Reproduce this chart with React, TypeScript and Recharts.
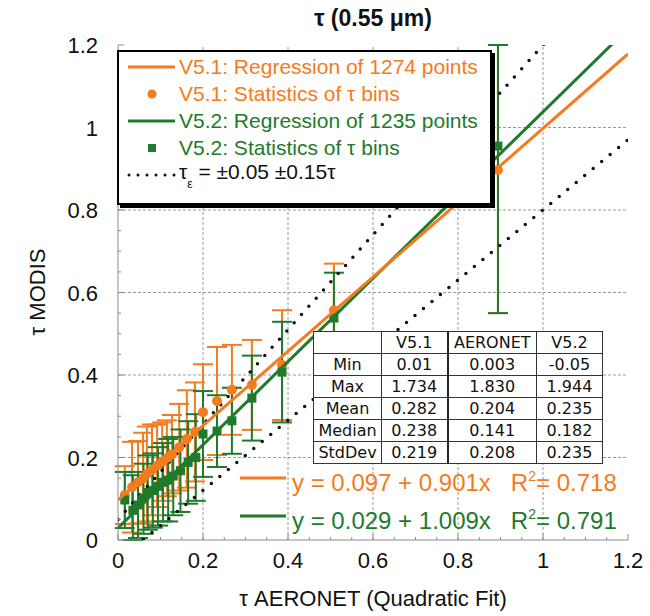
import React from "react";
import { ComposedChart, Scatter, XAxis, YAxis, ErrorBar, ReferenceLine } from "recharts";

const ORANGE = "#f47b20";
const GREEN = "#1f7a2c";
const AXIS = "#8a8a8a";
const FONT = '"Liberation Sans", Arial, Helvetica, sans-serif';

// axis ticks (minor every 0.05, labelled every 0.2)
const axisTicks = [0, 0.05, 0.1, 0.15, 0.2, 0.25, 0.3, 0.35, 0.4, 0.45, 0.5, 0.55, 0.6, 0.65, 0.7, 0.75, 0.8, 0.85, 0.9, 0.95, 1, 1.05, 1.1, 1.15, 1.2];
const gridTicks = [0.2, 0.4, 0.6, 0.8, 1];

// V5.1 statistics of tau bins (mean +/- std)
const v51X = [0.016, 0.033, 0.047, 0.059, 0.068, 0.08, 0.092, 0.104, 0.115, 0.127, 0.144, 0.162, 0.181, 0.2, 0.233, 0.268, 0.315, 0.386, 0.508, 0.894];
const v51Y = [0.109, 0.128, 0.14, 0.15, 0.16, 0.17, 0.18, 0.19, 0.198, 0.208, 0.225, 0.245, 0.262, 0.31, 0.337, 0.364, 0.376, 0.424, 0.557, 0.897];
const v51Std = [0.07, 0.11, 0.1, 0.11, 0.115, 0.11, 0.1, 0.095, 0.092, 0.095, 0.105, 0.118, 0.12, 0.116, 0.131, 0.109, 0.109, 0.133, 0.113, 0.347];

// V5.2 statistics of tau bins
const v52X = [0.016, 0.035, 0.047, 0.06, 0.07, 0.082, 0.094, 0.106, 0.118, 0.13, 0.147, 0.165, 0.183, 0.2, 0.233, 0.268, 0.315, 0.386, 0.508, 0.894];
const v52Y = [0.097, 0.072, 0.085, 0.1, 0.115, 0.12, 0.13, 0.14, 0.145, 0.155, 0.168, 0.188, 0.2, 0.257, 0.264, 0.289, 0.344, 0.407, 0.538, 0.955];
const v52Std = [0.068, 0.085, 0.08, 0.085, 0.09, 0.09, 0.095, 0.095, 0.1, 0.095, 0.1, 0.1, 0.105, 0.104, 0.087, 0.08, 0.103, 0.122, 0.11, 0.405];

// regressions and expected error envelope
const v51Fit = { intercept: 0.097, slope: 0.901, r2: "0.718", n: 1274 };
const v52Fit = { intercept: 0.029, slope: 1.009, r2: "0.791", n: 1235 };
const eeOffset = 0.05;
const eeSlope = 0.15;

// summary table
const statsCols = ["V5.1", "AERONET", "V5.2"];
const statsRows = ["Min", "Max", "Mean", "Median", "StdDev"];
const statsV51 = ["0.01", "1.734", "0.282", "0.238", "0.219"];
const statsAeronet = ["0.003", "1.830", "0.204", "0.141", "0.208"];
const statsV52 = ["-0.05", "1.944", "0.235", "0.182", "0.235"];

const X0 = 0;
const X1 = 1.2;

// error bars are cut at the plot frame (ErrorBar is not clipped by recharts)
const bins = (xs: number[], ys: number[], sd: number[]) =>
  xs.map((x, i) => ({
    x,
    y: ys[i],
    err: [Math.min(sd[i], ys[i] - X0), Math.min(sd[i], X1 - ys[i])],
  }));
const fitLine = (f: { intercept: number; slope: number }) => [
  { x: X0, y: f.intercept + f.slope * X0 },
  { x: X1, y: f.intercept + f.slope * X1 },
];
const eeLine = (sign: number) => [
  { x: X0, y: X0 + sign * (eeOffset + eeSlope * X0) },
  { x: X1, y: X1 + sign * (eeOffset + eeSlope * X1) },
];

const v51Data = bins(v51X, v51Y, v51Std);
const v52Data = bins(v52X, v52Y, v52Std);

const isMajor = (v: number) => Math.abs(v * 5 - Math.round(v * 5)) < 1e-6;
const fmt = (v: number) => (v === 0 ? "0" : String(+v.toFixed(1)));

function BottomTick({ x, y, payload }: any) {
  const major = isMajor(payload.value);
  return (
    <g>
      <line x1={x} x2={x} y1={y} y2={y - (major ? 6 : 3)} stroke={AXIS} />
      {major && (
        <text x={x} y={y + 28} textAnchor="middle" fontSize={22} fontFamily={FONT} fill="#111">
          {fmt(payload.value)}
        </text>
      )}
    </g>
  );
}

function TopTick({ x, y, payload }: any) {
  const major = isMajor(payload.value);
  return <line x1={x} x2={x} y1={y} y2={y + (major ? 6 : 3)} stroke={AXIS} />;
}

function LeftTick({ x, y, payload }: any) {
  const major = isMajor(payload.value);
  return (
    <g>
      <line x1={x} x2={x + (major ? 6 : 3)} y1={y} y2={y} stroke={AXIS} />
      {major && (
        <text x={x - 20} y={y + 8} textAnchor="end" fontSize={22} fontFamily={FONT} fill="#111">
          {fmt(payload.value)}
        </text>
      )}
    </g>
  );
}

function RightTick({ x, y, payload }: any) {
  const major = isMajor(payload.value);
  return <line x1={x} x2={x - (major ? 6 : 3)} y1={y} y2={y} stroke={AXIS} />;
}

const noShape = () => <g />;
const dot = (p: any) => <circle cx={p.cx} cy={p.cy} r={5} fill={ORANGE} />;
const square = (p: any) => <rect x={p.cx - 4.5} y={p.cy - 4.5} width={9} height={9} fill={GREEN} />;

function LegendRow({ top, symbol, color, children }: any) {
  return (
    <div style={{ position: "absolute", left: 6, top, height: 26, display: "flex", alignItems: "center" }}>
      <svg width={52} height={26}>{symbol}</svg>
      <span style={{ marginLeft: 2, fontSize: 21, color, whiteSpace: "nowrap" }}>{children}</span>
    </div>
  );
}

function LegendBox() {
  return (
    <div
      style={{
        position: "absolute",
        left: 117,
        top: 50,
        width: 371,
        height: 151,
        border: "2px solid #000",
        boxShadow: "3px 3px 0 #000",
        background: "#fff",
      }}
    >
      <LegendRow top={2} color={ORANGE} symbol={<line x1={3} x2={50} y1={13} y2={13} stroke={ORANGE} strokeWidth={3} />}>
        V5.1: Regression of {v51Fit.n} points
      </LegendRow>
      <LegendRow top={29} color={ORANGE} symbol={<circle cx={27} cy={13} r={4.5} fill={ORANGE} />}>
        V5.1: Statistics of τ bins
      </LegendRow>
      <LegendRow top={56} color={GREEN} symbol={<line x1={3} x2={50} y1={13} y2={13} stroke={GREEN} strokeWidth={3} />}>
        V5.2: Regression of {v52Fit.n} points
      </LegendRow>
      <LegendRow top={83} color={GREEN} symbol={<rect x={23} y={9} width={8} height={8} fill={GREEN} />}>
        V5.2: Statistics of τ bins
      </LegendRow>
      <LegendRow
        top={110}
        color="#111"
        symbol={<line x1={4} x2={50} y1={13} y2={13} stroke="#111" strokeWidth={3} strokeDasharray="0 9" strokeLinecap="round" />}
      >
        τ<sub style={{ fontSize: 12, verticalAlign: -9 }}>ε</sub> = ±0.05 ±0.15τ
      </LegendRow>
    </div>
  );
}

function StatsTable() {
  const cell: React.CSSProperties = { border: "1.5px solid #333", padding: 0, textAlign: "center", lineHeight: "20px" };
  const widths = [68, 66, 89, 66];
  const cols = [statsV51, statsAeronet, statsV52];
  return (
    <table
      style={{
        position: "absolute",
        left: 313,
        top: 331,
        borderCollapse: "collapse",
        background: "#fff",
        fontFamily: '"DejaVu Sans", Verdana, sans-serif',
        fontSize: 16,
        color: "#111",
        tableLayout: "fixed",
      }}
    >
      <colgroup>
        {widths.map((w, i) => (
          <col key={i} style={{ width: w }} />
        ))}
      </colgroup>
      <tbody>
        <tr style={{ height: 22 }}>
          <td style={cell}></td>
          {statsCols.map((c, i) => (
            <td key={c} style={{ ...cell, borderLeft: i === 1 ? "2.5px solid #222" : cell.border }}>
              {c}
            </td>
          ))}
        </tr>
        {statsRows.map((r, ri) => (
          <tr key={r} style={{ height: 22 }}>
            <td style={cell}>{r}</td>
            {cols.map((col, ci) => (
              <td key={ci} style={{ ...cell, borderLeft: ci === 1 ? "2.5px solid #222" : cell.border }}>
                {col[ri]}
              </td>
            ))}
          </tr>
        ))}
      </tbody>
    </table>
  );
}

function FitLabel({ top, color, fit }: any) {
  return (
    <div style={{ position: "absolute", left: 238, top, height: 30, display: "flex", alignItems: "center" }}>
      <svg width={50} height={30}>
        <line x1={2} x2={48} y1={11} y2={11} stroke={color} strokeWidth={3} />
      </svg>
      <span style={{ marginLeft: 4, fontSize: 24, color, whiteSpace: "pre" }}>
        y = {fit.intercept.toFixed(3)} + {fit.slope.toFixed(3)}x{"   "}R<sup style={{ fontSize: 14, verticalAlign: 10 }}>2</sup>= {fit.r2}
      </span>
    </div>
  );
}

export default function App() {
  return (
    <div style={{ position: "absolute", left: 0, top: 0, width: 650, height: 616, background: "#fff", fontFamily: FONT }}>
      <ComposedChart width={650} height={616} margin={{ top: 45, right: 22, bottom: 0, left: 0 }}>
        <XAxis
          dataKey="x"
          type="number"
          domain={[X0, X1]}
          ticks={axisTicks}
          interval={0}
          allowDataOverflow
          height={76}
          tickSize={0}
          tickMargin={0}
          tickLine={false}
          axisLine={{ stroke: AXIS }}
          tick={<BottomTick />}
        />
        <XAxis
          xAxisId="top"
          orientation="top"
          type="number"
          domain={[X0, X1]}
          ticks={axisTicks}
          interval={0}
          allowDataOverflow
          height={0}
          tickSize={0}
          tickMargin={0}
          tickLine={false}
          axisLine={{ stroke: AXIS }}
          tick={<TopTick />}
        />
        <YAxis
          dataKey="y"
          type="number"
          domain={[X0, X1]}
          ticks={axisTicks}
          interval={0}
          allowDataOverflow
          width={118}
          tickSize={0}
          tickMargin={0}
          tickLine={false}
          axisLine={{ stroke: AXIS }}
          tick={<LeftTick />}
        />
        <YAxis
          yAxisId="right"
          orientation="right"
          type="number"
          domain={[X0, X1]}
          ticks={axisTicks}
          interval={0}
          allowDataOverflow
          width={0}
          tickSize={0}
          tickMargin={0}
          tickLine={false}
          axisLine={{ stroke: AXIS }}
          tick={<RightTick />}
        />

        {gridTicks.map((v) => (
          <ReferenceLine key={"gx" + v} x={v} stroke="#9a9a9a" strokeDasharray="3 2" />
        ))}
        {gridTicks.map((v) => (
          <ReferenceLine key={"gy" + v} y={v} stroke="#9a9a9a" strokeDasharray="3 2" />
        ))}

        <Scatter
          data={eeLine(1)}
          shape={noShape}
          line={{ stroke: "#111", strokeWidth: 3.5, strokeDasharray: "0 11", strokeLinecap: "round" }}
          isAnimationActive={false}
        />
        <Scatter
          data={eeLine(-1)}
          shape={noShape}
          line={{ stroke: "#111", strokeWidth: 3.5, strokeDasharray: "0 11", strokeLinecap: "round" }}
          isAnimationActive={false}
        />

        <Scatter data={v51Data} shape={dot} isAnimationActive={false}>
          <ErrorBar dataKey="err" direction="y" width={10} stroke={ORANGE} strokeWidth={2} />
        </Scatter>
        <Scatter data={v52Data} shape={square} isAnimationActive={false}>
          <ErrorBar dataKey="err" direction="y" width={10} stroke={GREEN} strokeWidth={2} />
        </Scatter>

        <Scatter data={fitLine(v52Fit)} shape={noShape} line={{ stroke: GREEN, strokeWidth: 3 }} isAnimationActive={false} />
        <Scatter data={fitLine(v51Fit)} shape={noShape} line={{ stroke: ORANGE, strokeWidth: 3 }} isAnimationActive={false} />
      </ComposedChart>

      <div style={{ position: "absolute", left: 0, width: 746, top: 5, textAlign: "center", fontSize: 23, fontWeight: "bold", color: "#111" }}>
        τ (0.55 μm)
      </div>
      <div style={{ position: "absolute", left: 0, width: 746, top: 586, textAlign: "center", fontSize: 22, color: "#111" }}>
        τ AERONET (Quadratic Fit)
      </div>
      <div
        style={{
          position: "absolute",
          left: 38,
          top: 292,
          transform: "translate(-50%, -50%) rotate(-90deg)",
          fontSize: 22,
          color: "#111",
          whiteSpace: "nowrap",
        }}
      >
        τ MODIS
      </div>

      <LegendBox />
      <StatsTable />
      <FitLabel top={467} color={ORANGE} fit={v51Fit} />
      <FitLabel top={505} color={GREEN} fit={v52Fit} />
    </div>
  );
}
